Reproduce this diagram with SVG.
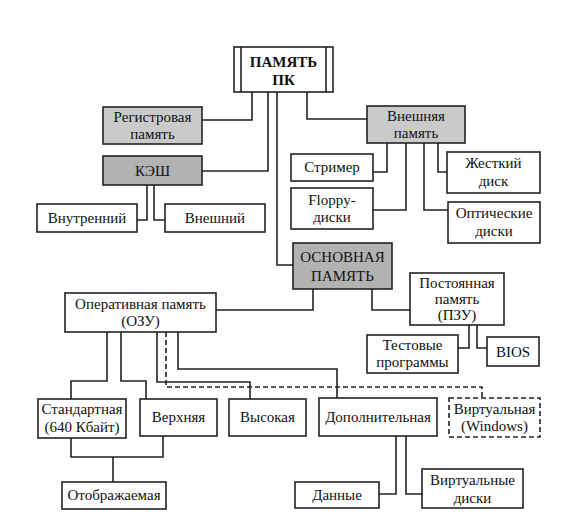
<svg xmlns="http://www.w3.org/2000/svg" width="585" height="525" viewBox="0 0 585 525">
<style>
.b{fill:#fff;stroke:#222;stroke-width:1.6}
.g1{fill:#cacaca;stroke:#222;stroke-width:1.6}
.g2{fill:#b2b2b2;stroke:#222;stroke-width:1.6}
.d{fill:#fff;stroke:#222;stroke-width:1.6;stroke-dasharray:5,3}
text{font-family:"Liberation Serif","DejaVu Serif","Times New Roman",serif;font-size:15px;fill:#111;text-anchor:middle}
.bold{font-weight:bold}
#connectors path{fill:none;stroke:#222;stroke-width:1.6}
#connectors path.dash{stroke-dasharray:5,3}
</style>
<rect width="585" height="525" fill="#fff"/>
<g id="connectors">
<path d="M252,92 V120 H202"/>
<path d="M268,92 V171 H202"/>
<path d="M277,92 V265 H293"/>
<path d="M307,92 V119 H367"/>
<path d="M147,185 V220 H137"/>
<path d="M154,185 V220 H165"/>
<path d="M387,143 V172 H373"/>
<path d="M406,143 V210 H373"/>
<path d="M438,143 V172 H447"/>
<path d="M424,143 V210 H448"/>
<path d="M313,289 V310 H216"/>
<path d="M372,289 V310 H410"/>
<path d="M469,325 V348 H458"/>
<path d="M477,325 V348 H487"/>
<path d="M107,332 V381 H71 V399"/>
<path d="M121,332 V381 H146 V399"/>
<path d="M157,332 V382 H250 V399"/>
<path d="M178,332 V369 H337 V398"/>
<path class="dash" d="M166,332 V387 H482 V398"/>
<path d="M71,438 V457 H163 V436"/>
<path d="M113,457 V482"/>
<path d="M396,436 V494 H379"/>
<path d="M406,436 V494 H422"/>
</g>
<g id="pamyat">
<rect class="b" x="234" y="47" width="99" height="45"/>
<line x1="241" y1="47" x2="241" y2="92" stroke="#222" stroke-width="1.6"/>
<line x1="326" y1="47" x2="326" y2="92" stroke="#222" stroke-width="1.6"/>
<text class="bold" x="283.5" y="67">ПАМЯТЬ</text>
<text class="bold" x="283.5" y="85">ПК</text>
</g>
<g id="registr">
<rect class="g1" x="103" y="107" width="99" height="37"/>
<text x="152.5" y="122">Регистровая</text>
<text x="152.5" y="139">память</text>
</g>
<g id="kesh">
<rect class="g2" x="103" y="156" width="99" height="29"/>
<text x="152.5" y="176">КЭШ</text>
</g>
<g id="vnutr">
<rect class="b" x="37" y="204" width="100" height="28"/>
<text x="87" y="223">Внутренний</text>
</g>
<g id="vnesh">
<rect class="b" x="165" y="204" width="100" height="28"/>
<text x="215" y="223">Внешний</text>
</g>
<g id="vneshmem">
<rect class="g1" x="367" y="106" width="98" height="37"/>
<text x="416" y="121">Внешняя</text>
<text x="416" y="138">память</text>
</g>
<g id="strimer">
<rect class="b" x="291" y="154" width="82" height="27"/>
<text x="332" y="172">Стример</text>
</g>
<g id="floppy">
<rect class="b" x="291" y="188" width="82" height="41"/>
<text x="332" y="205">Floppy-</text>
<text x="332" y="222">диски</text>
</g>
<g id="zhestk">
<rect class="b" x="447" y="152" width="93" height="41"/>
<text x="493.5" y="168">Жесткий</text>
<text x="493.5" y="186">диск</text>
</g>
<g id="optich">
<rect class="b" x="448" y="202" width="92" height="41"/>
<text x="494" y="218">Оптические</text>
<text x="494" y="236">диски</text>
</g>
<g id="osnov">
<rect class="g2" x="293" y="243" width="99" height="46"/>
<text x="342.5" y="262">ОСНОВНАЯ</text>
<text x="342.5" y="281">ПАМЯТЬ</text>
</g>
<g id="ozu">
<rect class="b" x="65" y="293" width="151" height="39"/>
<text x="140.5" y="309">Оперативная память</text>
<text x="140.5" y="326">(ОЗУ)</text>
</g>
<g id="pzu">
<rect class="b" x="410" y="273" width="94" height="52"/>
<text x="457" y="288">Постоянная</text>
<text x="457" y="304">память</text>
<text x="457" y="320">(ПЗУ)</text>
</g>
<g id="test">
<rect class="b" x="367" y="335" width="91" height="38"/>
<text x="412.5" y="350">Тестовые</text>
<text x="412.5" y="367">программы</text>
</g>
<g id="bios">
<rect class="b" x="487" y="337" width="52" height="29"/>
<text x="513" y="357">BIOS</text>
</g>
<g id="standart">
<rect class="b" x="38" y="399" width="88" height="39"/>
<text x="82" y="414">Стандартная</text>
<text x="82" y="432">(640 Кбайт)</text>
</g>
<g id="verkh">
<rect class="b" x="140" y="399" width="77" height="37"/>
<text x="178.5" y="422">Верхняя</text>
</g>
<g id="vysok">
<rect class="b" x="229" y="399" width="77" height="37"/>
<text x="267.5" y="422">Высокая</text>
</g>
<g id="dop">
<rect class="b" x="319" y="398" width="118" height="38"/>
<text x="378" y="422">Дополнительная</text>
</g>
<g id="virt">
<rect class="d" x="449" y="398" width="91" height="39"/>
<text x="494.5" y="414">Виртуальная</text>
<text x="494.5" y="431">(Windows)</text>
</g>
<g id="otobr">
<rect class="b" x="62" y="482" width="104" height="27"/>
<text x="114" y="500">Отображаемая</text>
</g>
<g id="dannye">
<rect class="b" x="295" y="482" width="84" height="26"/>
<text x="337" y="500">Данные</text>
</g>
<g id="virtdisk">
<rect class="b" x="422" y="469" width="101" height="39"/>
<text x="472.5" y="485">Виртуальные</text>
<text x="472.5" y="503">диски</text>
</g>
</svg>
